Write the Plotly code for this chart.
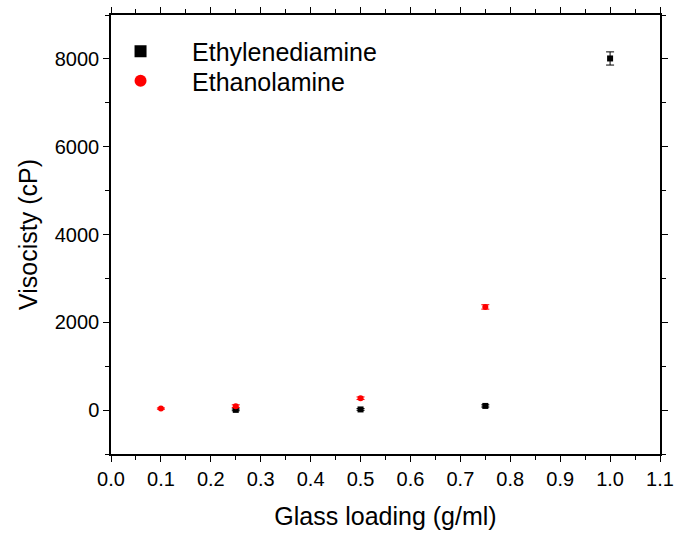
import plotly.graph_objects as go

# Data
eda_x = [0.25, 0.5, 0.75, 1.0]
eda_y = [5, 15, 95, 8010]
eda_err = [20, 20, 25, 150]

eta_x = [0.1, 0.25, 0.5, 0.75]
eta_y = [35, 90, 270, 2350]
eta_err = [15, 30, 30, 50]

x_ticks = [0.0, 0.1, 0.2, 0.3, 0.4, 0.5, 0.6, 0.7, 0.8, 0.9, 1.0, 1.1]
x_tick_labels = ["0.0", "0.1", "0.2", "0.3", "0.4", "0.5", "0.6", "0.7", "0.8", "0.9", "1.0", "1.1"]
y_ticks = [0, 2000, 4000, 6000, 8000]

font = "Liberation Sans, Arial, sans-serif"

fig = go.Figure()
fig.add_trace(go.Scatter(
    x=eda_x, y=eda_y, mode="markers", name="Ethylenediamine", legend="legend",
    marker=dict(symbol="square", color="black", size=6),
    error_y=dict(type="data", array=eda_err, color="black", thickness=1, width=4),
))
fig.add_trace(go.Scatter(
    x=eta_x, y=eta_y, mode="markers", name="Ethanolamine", legend="legend2",
    marker=dict(symbol="circle", color="red", size=6),
    error_y=dict(type="data", array=eta_err, color="red", thickness=1, width=4),
))

axis_common = dict(
    showline=True, linecolor="black", linewidth=1.5, mirror="ticks",
    ticks="outside", ticklen=6, tickwidth=1.2, tickcolor="black",
    showgrid=False, zeroline=False,
    tickfont=dict(family=font, size=20, color="black"),
)

legend_common = dict(xanchor="left", yanchor="top", bgcolor="rgba(0,0,0,0)",
                     font=dict(family=font, size=25), itemsizing="constant",
                     itemwidth=93, tracegroupgap=0)

fig.update_layout(
    width=681, height=533,
    margin=dict(l=111, r=13, t=7, b=77),
    paper_bgcolor="white", plot_bgcolor="white",
    font=dict(family=font, color="black"),
    showlegend=True,
    legend=dict(x=-0.04, y=0.969, **legend_common),
    legend2=dict(x=-0.04, y=0.902, **legend_common),
    xaxis=dict(
        range=[0, 1.1], tickvals=x_ticks, ticktext=x_tick_labels,
        minor=dict(ticks="outside", ticklen=4, dtick=0.05, tickcolor="black", tickwidth=1.2),
        title=dict(text="Glass loading (g/ml)", font=dict(family=font, size=25), standoff=19),
        **axis_common,
    ),
    yaxis=dict(
        range=[-1000, 9000], tickvals=y_ticks,
        minor=dict(ticks="outside", ticklen=4, dtick=1000, tick0=0, tickcolor="black", tickwidth=1.2),
        title=dict(text="Visocisty (cP)", font=dict(family=font, size=25), standoff=10),
        **axis_common,
    ),
)

fig.write_html("out.html")
